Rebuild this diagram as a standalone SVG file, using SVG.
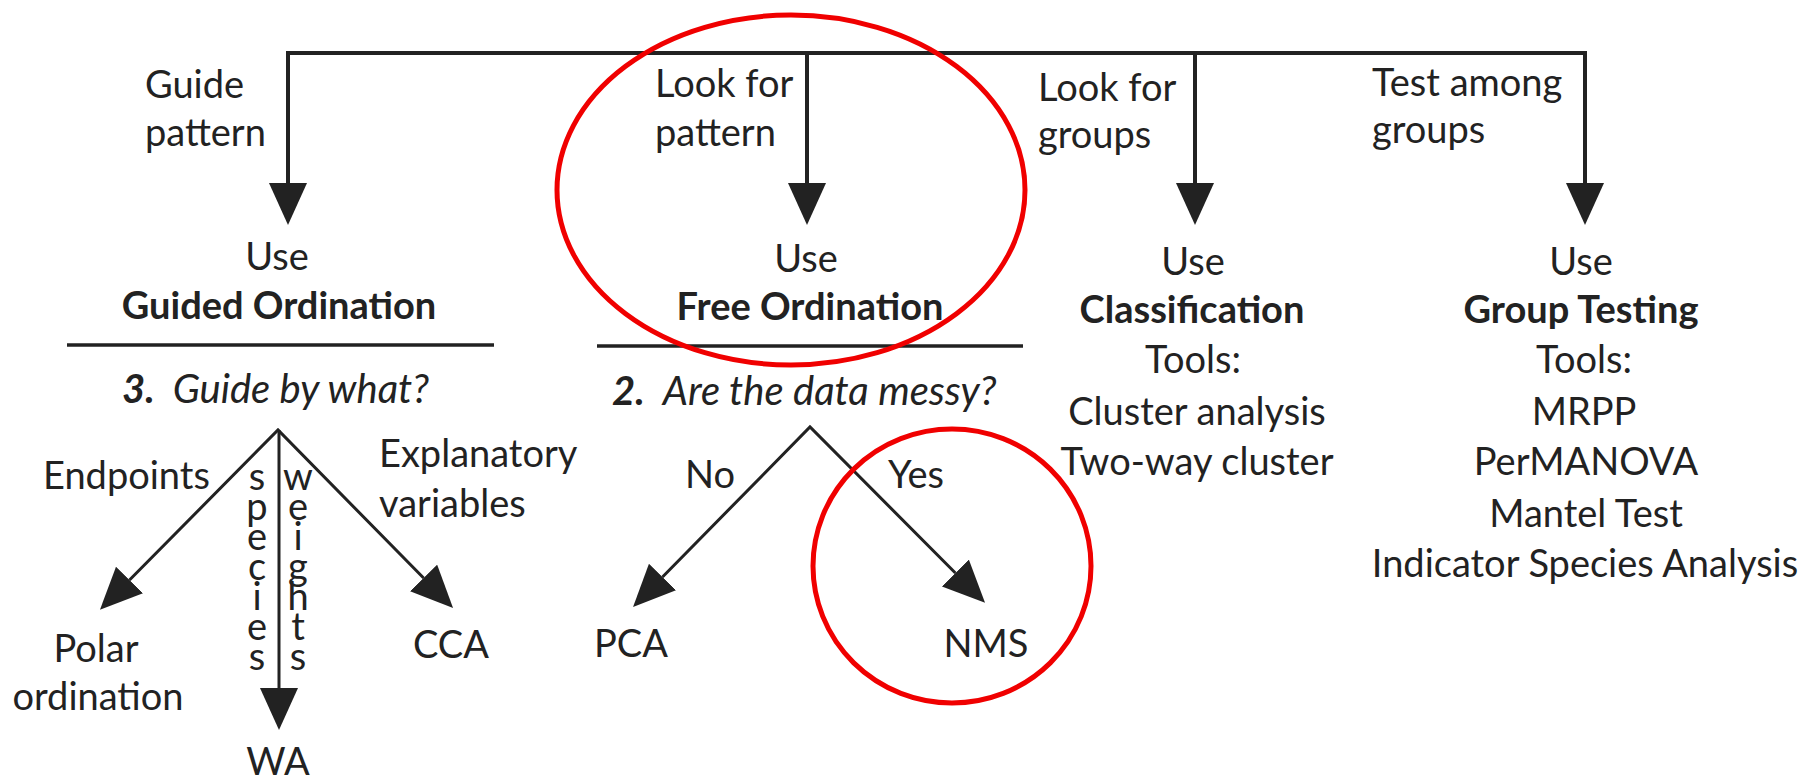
<svg xmlns="http://www.w3.org/2000/svg" width="1804" height="781" viewBox="0 0 1804 781">
<style>
  text { font-family: Lato, "Liberation Sans", sans-serif; font-size: 38px; fill: #222; }
  .b { font-weight: bold; }
  .m { text-anchor: middle; }
  .q { font-style: italic; font-size: 40px; }
  .ln { fill: none; stroke: #222; stroke-width: 4; }
  .dl { fill: none; stroke: #222; stroke-width: 3; stroke-linejoin: miter; }
  .rule { stroke: #222; stroke-width: 3.5; }
  .red { fill: none; stroke: #f00000; stroke-width: 5; }
</style>
<defs>
  <marker id="ah" markerUnits="userSpaceOnUse" markerWidth="44" markerHeight="40" refX="0" refY="19" orient="auto">
    <path d="M0,0 L42,19 L0,38 z" fill="#222"/>
  </marker>
  <marker id="ahs" markerUnits="userSpaceOnUse" markerWidth="44" markerHeight="40" refX="0" refY="19" orient="auto-start-reverse">
    <path d="M0,0 L42,19 L0,38 z" fill="#222"/>
  </marker>
</defs>
<rect width="1804" height="781" fill="#fff"/>

<g id="connectors">
  <path class="ln" d="M288,183 V53 H1585 V183" marker-start="url(#ahs)" marker-end="url(#ah)"/>
  <path class="ln" d="M807,53 V183" marker-end="url(#ah)"/>
  <path class="ln" d="M1195,53 V183" marker-end="url(#ah)"/>
  <path class="dl" d="M129.5,580 L278,430 L423.6,578" marker-start="url(#ahs)" marker-end="url(#ah)"/>
  <path class="dl" d="M279,430 V688" marker-end="url(#ah)"/>
  <path class="dl" d="M662.5,577 L810,427 L955.4,573" marker-start="url(#ahs)" marker-end="url(#ah)"/>
</g>

<g id="edge-labels">
  <text x="145" y="98">Guide</text>
  <text x="145" y="146">pattern</text>
  <text x="655" y="97">Look for</text>
  <text x="655" y="146">pattern</text>
  <text x="1038" y="101">Look for</text>
  <text x="1038" y="148">groups</text>
  <text x="1372" y="96">Test among</text>
  <text x="1372" y="143">groups</text>
  <text x="43" y="489">Endpoints</text>
  <text x="379" y="467">Explanatory</text>
  <text x="379" y="517">variables</text>
  <text class="m"><tspan x="257" y="490">s</tspan><tspan x="257" y="520">p</tspan><tspan x="257" y="550">e</tspan><tspan x="257" y="580">c</tspan><tspan x="257" y="610">i</tspan><tspan x="257" y="640">e</tspan><tspan x="257" y="670">s</tspan></text>
  <text class="m"><tspan x="298" y="490">w</tspan><tspan x="298" y="520">e</tspan><tspan x="298" y="550">i</tspan><tspan x="298" y="580">g</tspan><tspan x="298" y="610">h</tspan><tspan x="298" y="640">t</tspan><tspan x="298" y="670">s</tspan></text>
  <text x="685" y="488">No</text>
  <text x="888" y="488">Yes</text>
</g>

<g id="node-guided">
  <text class="m" x="277" y="270">Use</text>
  <text class="m b" x="279" y="319">Guided Ordination</text>
  <line class="rule" x1="67" y1="345" x2="494" y2="345"/>
  <text x="122" y="403"><tspan class="b q">3.</tspan><tspan class="q" dx="18">Guide by what?</tspan></text>
</g>

<g id="node-free">
  <text class="m" x="806" y="272">Use</text>
  <text class="m b" x="810" y="320">Free Ordination</text>
  <line class="rule" x1="597" y1="346" x2="1023" y2="346"/>
  <text x="612" y="405"><tspan class="b q">2.</tspan><tspan class="q" dx="18">Are the data messy?</tspan></text>
</g>

<g id="node-classification">
  <text class="m" x="1193" y="275">Use</text>
  <text class="m b" x="1192" y="323">Classification</text>
  <text class="m" x="1193" y="373">Tools:</text>
  <text class="m" x="1197" y="425">Cluster analysis</text>
  <text class="m" x="1197" y="475">Two-way cluster</text>
</g>

<g id="node-group-testing">
  <text class="m" x="1581" y="275">Use</text>
  <text class="m b" x="1581" y="323">Group Testing</text>
  <text class="m" x="1584" y="373">Tools:</text>
  <text class="m" x="1584" y="425">MRPP</text>
  <text class="m" x="1586" y="475">PerMANOVA</text>
  <text class="m" x="1586" y="527">Mantel Test</text>
  <text class="m" x="1585" y="577">Indicator Species Analysis</text>
</g>

<g id="node-polar"><text class="m" x="96" y="662">Polar</text><text class="m" x="98" y="710">ordination</text></g>
<g id="node-wa"><text class="m" x="278" y="775">WA</text></g>
<g id="node-cca"><text class="m" x="451" y="658">CCA</text></g>
<g id="node-pca"><text class="m" x="631" y="657">PCA</text></g>
<g id="node-nms"><text class="m" x="986" y="657">NMS</text></g>

<g id="highlights">
  <ellipse class="red" cx="791" cy="190" rx="234" ry="175"/>
  <ellipse class="red" cx="952" cy="566" rx="139" ry="137"/>
</g>
</svg>
